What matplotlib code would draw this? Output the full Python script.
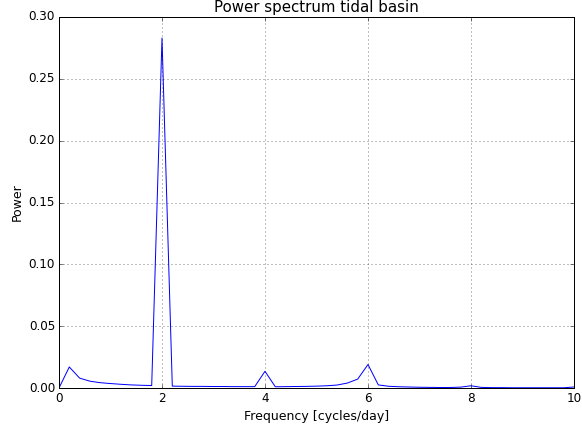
import matplotlib
matplotlib.use("Agg")
import matplotlib.pyplot as plt
import numpy as np

plt.style.use('classic')

freq = [0.0, 0.2, 0.4, 0.6, 0.8, 1.0, 1.2, 1.4, 1.6, 1.8,
        2.0, 2.2, 2.4, 2.6, 2.8, 3.0, 3.2, 3.4, 3.6, 3.8,
        4.0, 4.2, 4.4, 4.6, 4.8, 5.0, 5.2, 5.4, 5.6, 5.8,
        6.0, 6.2, 6.4, 6.6, 6.8, 7.0, 7.2, 7.4, 7.6, 7.8,
        8.0, 8.2, 8.4, 8.6, 8.8, 9.0, 9.2, 9.4, 9.6, 9.8, 10.0]
power = [0.0, 0.0170, 0.0080, 0.0055, 0.0043, 0.0036, 0.0030, 0.0025, 0.0022, 0.0020,
         0.2830, 0.0015, 0.0014, 0.0013, 0.0013, 0.0012, 0.0012, 0.0011, 0.0011, 0.0011,
         0.0135, 0.0010, 0.0011, 0.0012, 0.0013, 0.0015, 0.0018, 0.0024, 0.0040, 0.0072,
         0.0190, 0.0025, 0.0014, 0.0010, 0.0008, 0.0006, 0.0005, 0.0004, 0.0004, 0.0007,
         0.0018, 0.0005, 0.0003, 0.0003, 0.0002, 0.0002, 0.0002, 0.0002, 0.0002, 0.0002, 0.0008]

fig = plt.figure(figsize=(582/72, 432/72), dpi=72)
ax = fig.add_axes([59/582, 1-388/432, (574-59)/582, (388-17)/432])
ax.plot(freq, power, color='b', lw=1)
ax.set_xlim(0, 10)
ax.set_ylim(0, 0.30)
ax.set_yticks(np.arange(0, 0.301, 0.05))
ax.set_xticks(np.arange(0, 11, 2))
ax.grid(True)
ax.set_xlabel('Frequency [cycles/day]', fontsize=12.5)
ax.set_ylabel('Power', fontsize=12.5)
ax.set_title('Power spectrum tidal basin', fontsize=15)
ax.tick_params(labelsize=12)
fig.savefig('out.png', dpi=72)
